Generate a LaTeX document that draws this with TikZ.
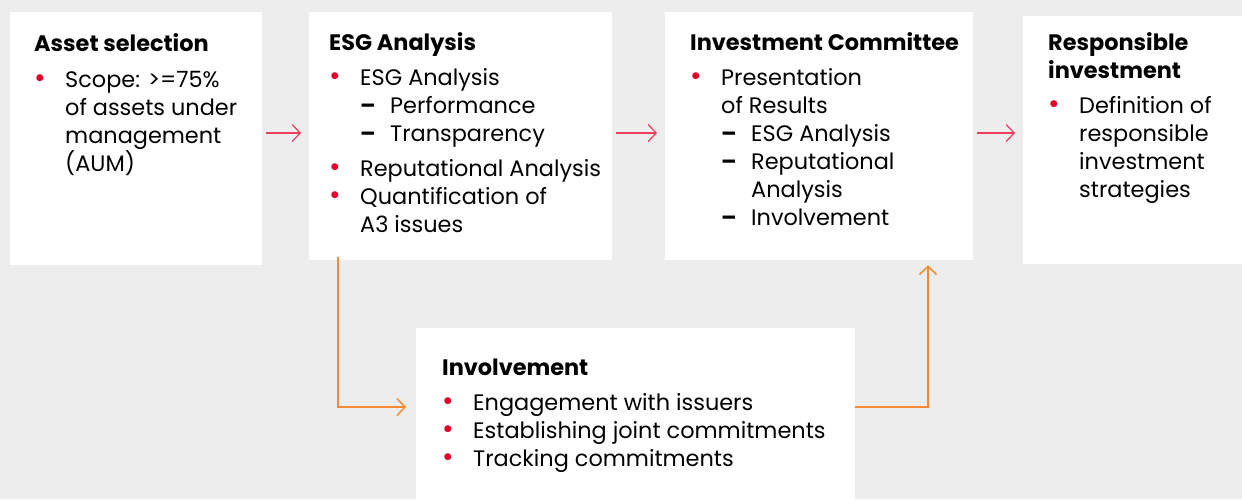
\documentclass[tikz,border=0pt]{standalone}
\usepackage{fontspec}
\usepackage{graphicx}
\setmainfont{Poppins}
\usetikzlibrary{arrows.meta,positioning,calc}
\definecolor{pagegray}{HTML}{EDEDED}
\definecolor{bulred}{HTML}{E4002B}
\definecolor{arrred}{HTML}{EE3D5F}
\definecolor{arrorange}{HTML}{F58A33}
\newcommand{\bul}{\makebox[31pt][l]{\textcolor{bulred}{\scalebox{1.25}{\textbullet}}}}
\newcommand{\ind}{\hspace*{31pt}}
\newcommand{\dsh}{\hspace*{31pt}\makebox[30pt][l]{\textbf{--}}}
\newcommand{\dind}{\hspace*{61pt}}
\newcommand{\hd}[1]{\rule{0pt}{20pt}\textbf{#1}}

\begin{document}
\begin{tikzpicture}[x=1pt,y=-1pt,
card/.style={fill=white,anchor=north west,inner sep=0pt},
txt/.style={anchor=north west,inner sep=0pt,align=left,
font=\fontsize{22.4}{28}\selectfont},
redarr/.style={draw=arrred,line width=1.2pt,
-{Straight Barb[length=8pt,width=17pt]},shorten <=4pt,shorten >=8pt},
orarr/.style={draw=arrorange,line width=1.5pt,
-{Straight Barb[length=8pt,width=17pt]}}
]
\fill[pagegray] (0,0) rectangle (1242,499);
\useasboundingbox (0,0) rectangle (1242,499);

% boxes
\node[card,minimum width=252pt,minimum height=253pt] (asset) at (10,12) {};
\node[card,minimum width=303pt,minimum height=248pt] (esg)   at (309,12) {};
\node[card,minimum width=308pt,minimum height=248pt] (comm)  at (665,12) {};
\node[card,minimum width=219pt,minimum height=248pt] (resp)  at (1023,16) {};
\node[card,minimum width=439pt,minimum height=171pt] (inv)   at (416,328) {};

% contents
\node[txt] (asset-t) at ($(asset.north west)+(24,19)$) {\hd{Asset selection}\\[8pt]
\bul Scope: >=75\%\\ \ind of assets under\\ \ind management\\ \ind (AUM)};
\node[txt] (esg-t) at ($(esg.north west)+(20,18)$) {\hd{ESG Analysis}\\[7pt]
\bul ESG Analysis\\ \dsh Performance\\ \dsh Transparency\\[7pt]
\bul Reputational Analysis\\ \bul Quantification of\\ \ind A3 issues};
\node[txt] (comm-t) at ($(comm.north west)+(25,18)$) {\hd{Investment Committee}\\[7pt]
\bul Presentation\\ \ind of Results\\ \dsh ESG Analysis\\ \dsh Reputational\\
\dind Analysis\\ \dsh Involvement};
\node[txt] (resp-t) at ($(resp.north west)+(25,14)$) {\hd{Responsible}\\ \textbf{investment}\\[7pt]
\bul Definition of\\ \ind responsible\\ \ind investment\\ \ind strategies};
\node[txt] (inv-t) at ($(inv.north west)+(26,27)$) {\hd{Involvement}\\[7pt]
\bul Engagement with issuers\\ \bul Establishing joint commitments\\
\bul Tracking commitments};

% connectors
\coordinate (rowy) at (0,133);
\coordinate (invy) at (0,407);
\draw[redarr] (asset.east |- rowy) -- (esg.west |- rowy);
\draw[redarr] (esg.east |- rowy) -- (comm.west |- rowy);
\draw[redarr] (comm.east |- rowy) -- (resp.west |- rowy);
\draw[orarr,shorten >=10pt] ($(esg.south west)+(29,-3)$) |- (inv.west |- invy);
\draw[orarr,shorten >=5pt] (inv.east |- invy) -| ($(comm.south west)+(263,0)$);
\end{tikzpicture}
\end{document}
